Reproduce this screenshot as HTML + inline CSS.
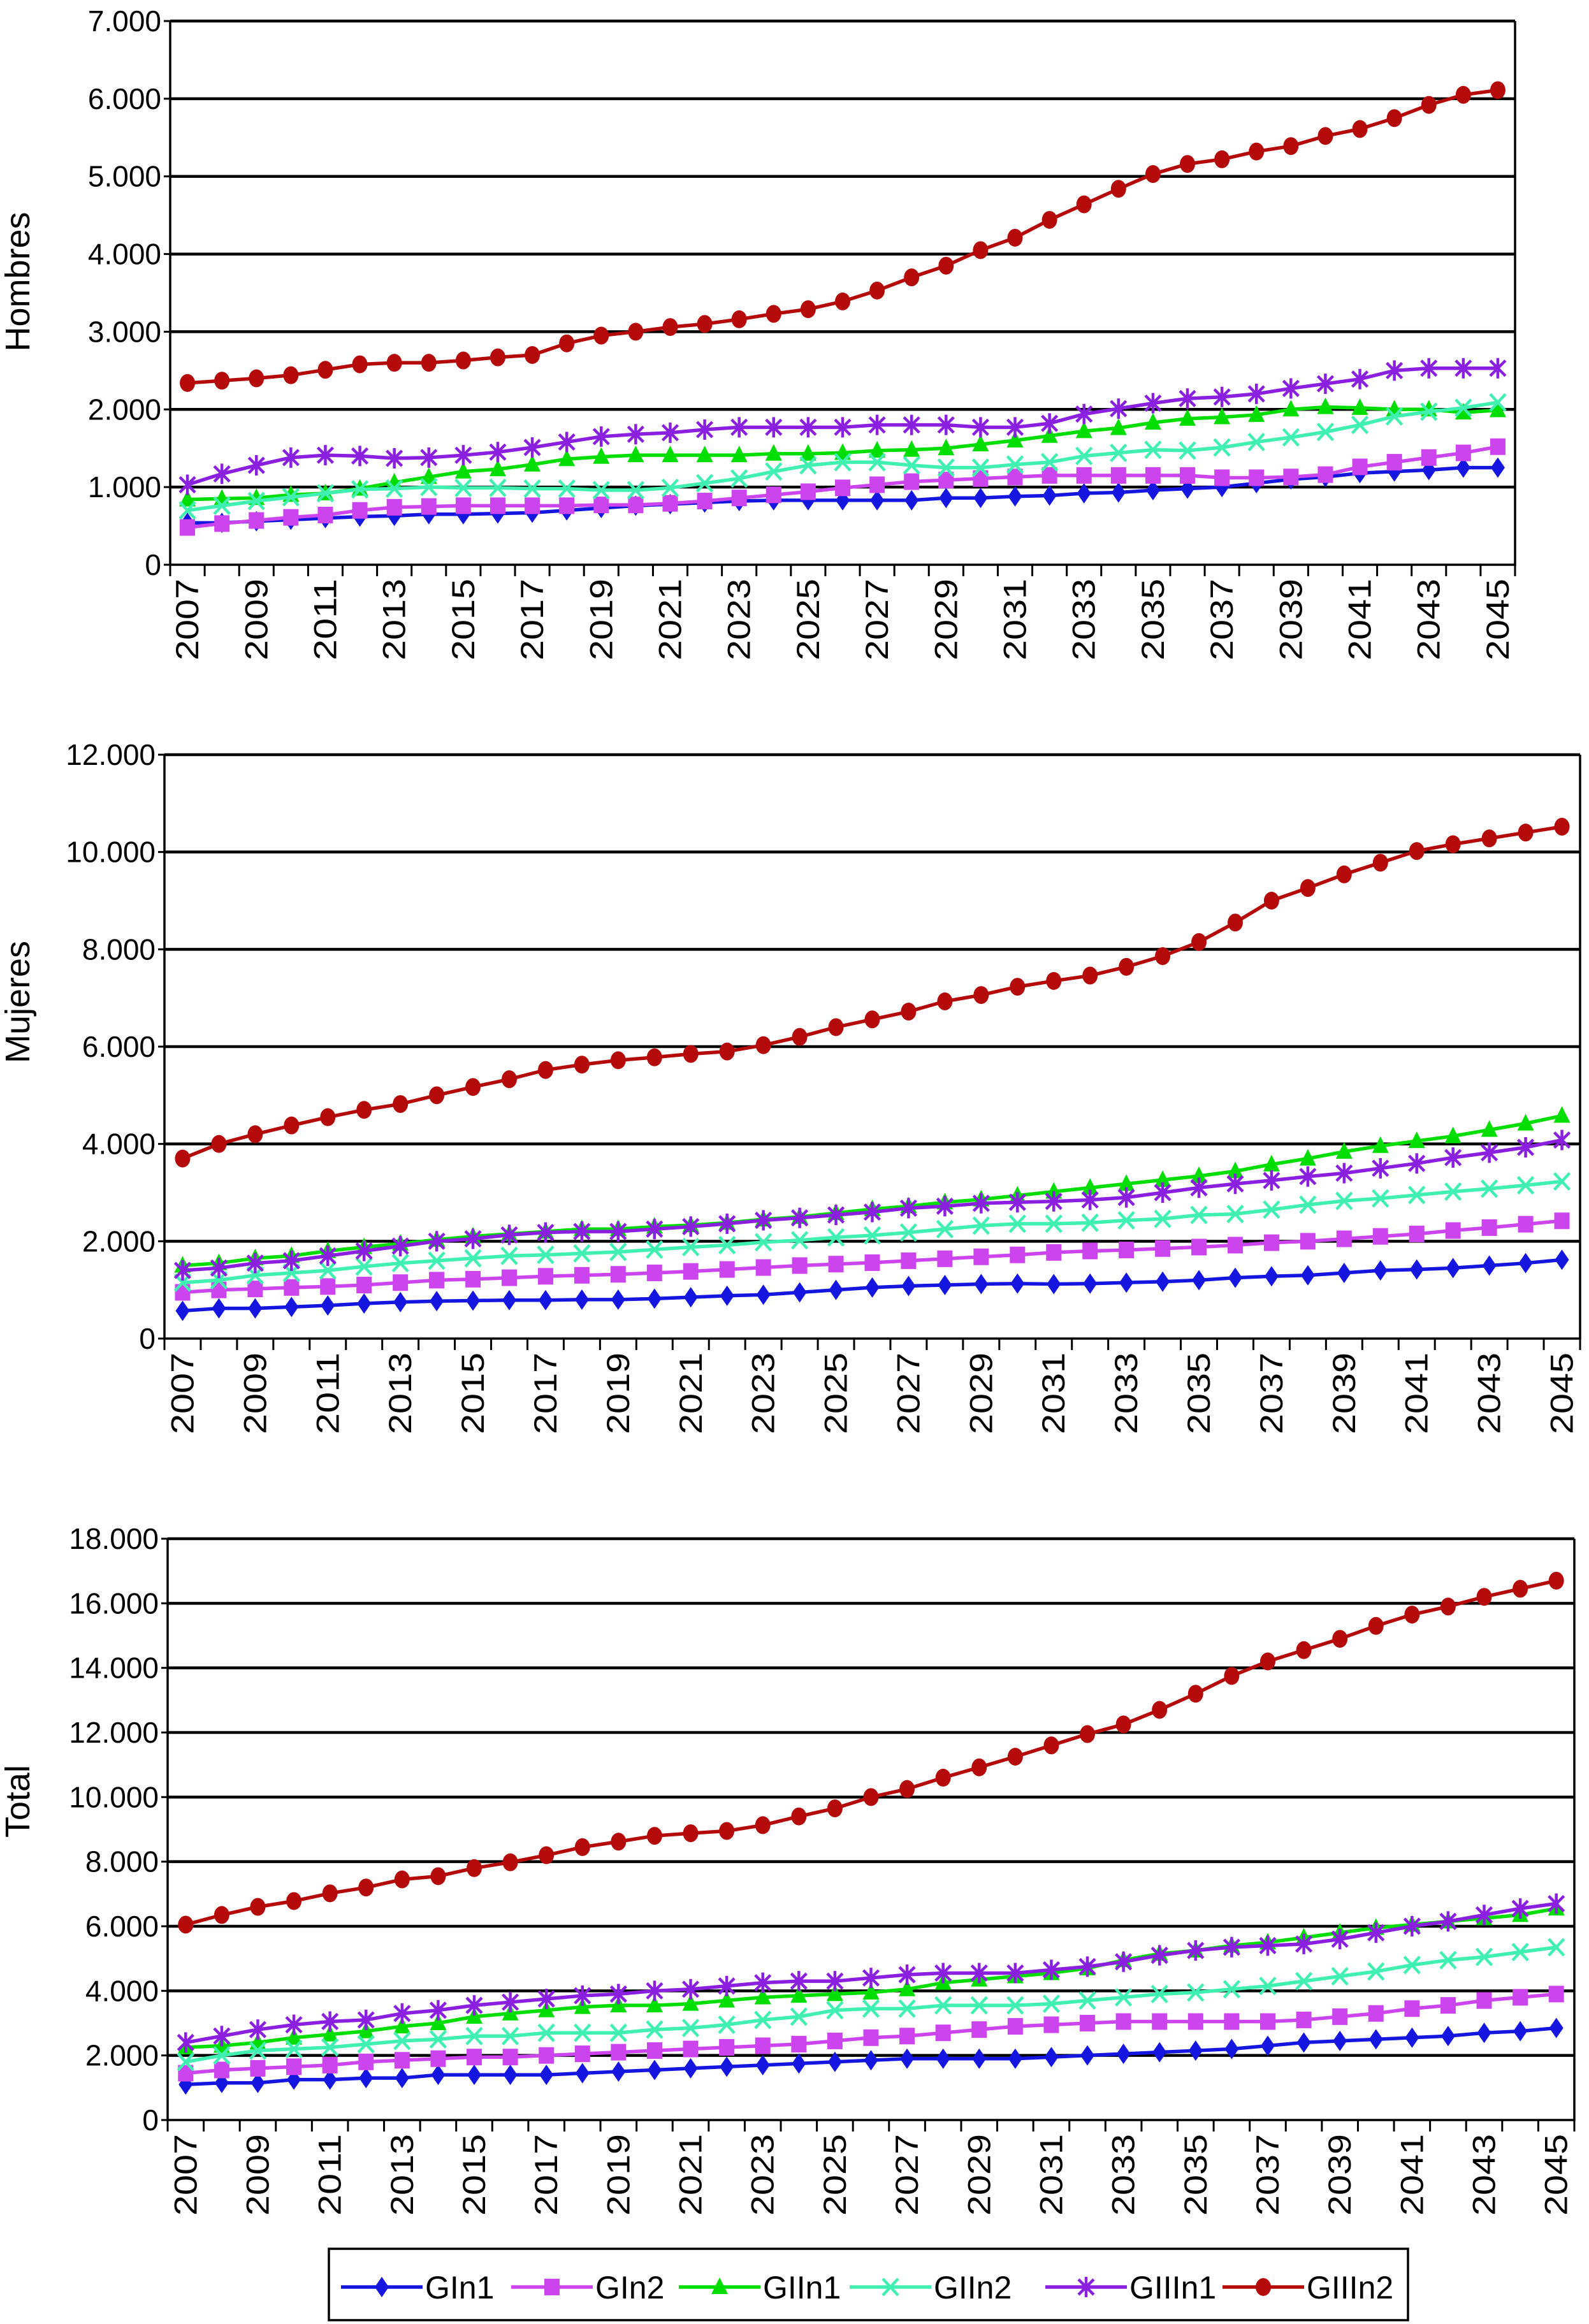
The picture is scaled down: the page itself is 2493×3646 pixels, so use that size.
<!DOCTYPE html>
<html><head><meta charset="utf-8"><style>
html,body{margin:0;padding:0;background:#fff;}
svg{display:block;font-family:"Liberation Sans",Arial,sans-serif;}
</style></head><body>
<svg id="root" width="2493" height="3646" viewBox="0 0 2493 3646"></svg>
<script>
const years = [];
for (let y = 2007; y <= 2045; y++) years.push(y);
const seriesNames = ["GIn1","GIn2","GIIn1","GIIn2","GIIIn1","GIIIn2"];

const hGIn1 = [540,540,560,580,600,620,630,650,650,660,670,700,730,760,780,800,820,830,830,830,830,830,860,860,880,890,920,930,960,980,1000,1050,1100,1130,1180,1200,1220,1250,1250];
const hGIn2 = [480,530,570,610,640,700,740,750,760,760,760,760,770,770,790,820,860,900,940,990,1030,1070,1090,1110,1130,1150,1150,1150,1150,1150,1120,1120,1130,1160,1260,1320,1380,1440,1520];
const hGIIn1 = [840,850,860,900,920,980,1060,1130,1200,1230,1290,1360,1390,1410,1410,1410,1410,1430,1430,1440,1470,1480,1500,1550,1600,1660,1720,1760,1830,1880,1900,1930,2000,2030,2020,2000,2000,1960,1990];
const hGIIn2 = [700,760,820,870,920,970,980,1000,990,990,980,980,960,960,990,1050,1110,1200,1280,1320,1320,1280,1250,1250,1290,1320,1400,1440,1480,1470,1510,1580,1640,1710,1800,1910,1970,2020,2090];
const hGIIIn1 = [1030,1170,1280,1380,1410,1400,1370,1380,1410,1450,1510,1580,1650,1680,1700,1740,1770,1770,1770,1770,1800,1800,1800,1770,1770,1820,1940,2010,2080,2140,2160,2200,2270,2330,2390,2500,2530,2530,2530];
const hGIIIn2 = [2340,2370,2400,2440,2510,2580,2600,2600,2630,2670,2700,2850,2950,3000,3060,3100,3160,3230,3290,3390,3530,3700,3850,4050,4210,4440,4640,4840,5030,5160,5220,5320,5390,5520,5610,5750,5920,6050,6110];

const mGIn1 = [570,620,620,650,680,720,750,770,780,790,790,800,800,820,850,880,900,950,1000,1050,1080,1100,1120,1130,1120,1130,1150,1170,1200,1250,1280,1300,1350,1400,1420,1450,1500,1550,1620];
const mGIn2 = [950,1000,1020,1050,1070,1100,1150,1200,1220,1250,1280,1300,1320,1350,1380,1420,1460,1500,1530,1560,1600,1640,1680,1720,1770,1800,1820,1850,1880,1920,1970,2000,2050,2100,2150,2220,2280,2350,2420];
const mGIIn1 = [1500,1550,1650,1700,1800,1880,1950,2030,2100,2150,2200,2250,2250,2300,2330,2380,2450,2500,2580,2660,2720,2800,2860,2940,3020,3100,3180,3260,3340,3440,3580,3700,3840,3960,4060,4160,4290,4420,4580];
const mGIIn2 = [1150,1200,1300,1350,1400,1480,1550,1600,1650,1700,1720,1750,1780,1830,1880,1920,1980,2020,2080,2120,2180,2250,2320,2360,2360,2380,2430,2460,2540,2560,2650,2750,2830,2880,2950,3020,3080,3150,3230];
const mGIIIn1 = [1400,1450,1550,1600,1700,1800,1900,2000,2050,2130,2180,2200,2200,2250,2300,2360,2430,2480,2540,2600,2680,2720,2780,2800,2820,2850,2900,3000,3100,3180,3250,3330,3400,3500,3600,3720,3820,3930,4080];
const mGIIIn2 = [3700,4000,4200,4380,4550,4700,4820,5000,5170,5330,5520,5630,5720,5780,5850,5900,6030,6200,6400,6560,6720,6930,7060,7230,7350,7460,7640,7860,8150,8550,9000,9260,9540,9780,10020,10160,10280,10400,10520];

const tGIn1 = [1100,1150,1150,1250,1250,1300,1300,1400,1400,1400,1400,1450,1500,1550,1600,1650,1700,1750,1800,1850,1900,1900,1900,1900,1950,2000,2050,2100,2150,2200,2300,2400,2450,2500,2550,2600,2700,2750,2850];
const tGIn2 = [1450,1550,1600,1650,1700,1800,1850,1900,1950,1950,2000,2050,2100,2150,2200,2250,2300,2350,2450,2550,2600,2700,2800,2900,2950,3000,3050,3050,3050,3050,3050,3100,3200,3300,3450,3550,3700,3800,3900];
const tGIIn1 = [2250,2300,2400,2550,2650,2750,2900,3000,3200,3300,3400,3500,3550,3550,3600,3700,3800,3850,3900,3950,4050,4250,4350,4450,4550,4700,4950,5150,5250,5400,5500,5650,5800,5950,6050,6150,6250,6350,6550];
const tGIIn2 = [1800,2000,2150,2200,2250,2350,2450,2500,2600,2600,2700,2700,2700,2800,2850,2950,3100,3200,3400,3450,3450,3550,3550,3550,3600,3700,3800,3900,3950,4050,4150,4300,4450,4600,4800,4950,5050,5200,5350];
const tGIIIn1 = [2400,2600,2800,2950,3050,3100,3300,3400,3550,3650,3750,3850,3900,4000,4050,4150,4250,4300,4300,4400,4500,4550,4550,4550,4650,4750,4900,5100,5250,5350,5400,5450,5600,5800,6000,6150,6350,6550,6700];
const tGIIIn2 = [6050,6350,6600,6780,7020,7200,7450,7550,7800,7980,8200,8450,8620,8800,8880,8950,9130,9400,9650,10000,10250,10600,10920,11250,11600,11950,12250,12700,13200,13750,14200,14550,14900,15300,15650,15900,16200,16450,16700];

const hTicks = [0,1000,2000,3000,4000,5000,6000,7000];
const mTicks = [0,2000,4000,6000,8000,10000,12000];
const tTicks = [0,2000,4000,6000,8000,10000,12000,14000,16000,18000];

const NS = "http://www.w3.org/2000/svg";
const root = document.getElementById("root");
const colors = ["#1515e0","#cc44ee","#00dd00","#40f0b0","#8a1fe0","#b50a0a"];
function el(tag, attrs, parent){const e=document.createElementNS(NS,tag);for(const k in attrs)e.setAttribute(k,attrs[k]);(parent||root).appendChild(e);return e;}
function fmt(v){return v===0?"0":String(v).replace(/\B(?=(\d{3})+(?!\d))/g,".");}

function marker(g, i, x, y){
  const c=colors[i]; let m;
  if(i===0){m=el("polygon",{points:`${x},${y-16} ${x+11},${y} ${x},${y+16} ${x-11},${y}`,fill:c},g);}
  else if(i===1){m=el("rect",{x:x-12,y:y-13,width:24,height:26,fill:c},g);}
  else if(i===2){m=el("polygon",{points:`${x},${y-15} ${x+13},${y+11} ${x-13},${y+11}`,fill:c},g);}
  else if(i===3){m=el("path",{d:`M${x-12},${y-13}L${x+12},${y+13}M${x+12},${y-13}L${x-12},${y+13}`,stroke:c,"stroke-width":4.5},g);}
  else if(i===4){m=el("path",{d:`M${x-12},${y-12}L${x+12},${y+12}M${x+12},${y-12}L${x-12},${y+12}M${x},${y-16}L${x},${y+16}`,stroke:c,"stroke-width":4.5},g);}
  else {m=el("ellipse",{cx:x,cy:y,rx:12,ry:14,fill:c},g);}
  
  
}

function drawChart(name, L, R, T, B, ticks, data, title, titleY){
  const g=el("g",{});
  
  
  const max=ticks[ticks.length-1];
  const yS=v=>B-(v/max)*(B-T);
  const bw=(R-L)/years.length;
  const xS=i=>L+bw*(i+0.5);
  ticks.forEach(t=>{
    if(t>0){const gl=el("line",{x1:L,x2:R,y1:yS(t),y2:yS(t),stroke:"#000","stroke-width":4.5},g);
      }
    const tl=el("text",{x:L-14,y:yS(t)+16,"text-anchor":"end","font-size":46,fill:"#000"},g);
    tl.textContent=fmt(t);
    
    el("line",{x1:L-10,x2:L,y1:yS(t),y2:yS(t),stroke:"#000","stroke-width":3},g);
  });
  const ax=el("path",{d:`M${L},${T}L${L},${B}L${R},${B}L${R},${T}`,fill:"none",stroke:"#000","stroke-width":3.5},g);
  
  for(let i=0;i<=years.length;i++){el("line",{x1:L+bw*i,x2:L+bw*i,y1:B,y2:B+18,stroke:"#000","stroke-width":3},g);}
  years.forEach((y,i)=>{
    if(i%2) return;
    const x=xS(i)+17, yy=B+22;
    const t=el("text",{x:x,y:yy,"text-anchor":"end","font-size":50,"textLength":128,"lengthAdjust":"spacingAndGlyphs",transform:`rotate(-90 ${x} ${yy})`},g);
    t.textContent=y;
    
  });
  const tt=el("text",{x:46,y:titleY,"text-anchor":"middle","font-size":54,transform:`rotate(-90 46 ${titleY})`},g);
  tt.textContent=title;
  
  data.forEach((arr,si)=>{
    const sg=el("g",{},g);
    
    
    const pts=arr.map((v,i)=>xS(i)+","+yS(v)).join(" ");
    el("polyline",{points:pts,fill:"none",stroke:colors[si],"stroke-width":5.5,"stroke-linejoin":"round"},sg);
    arr.forEach((v,i)=>marker(sg,si,xS(i),yS(v)));
  });
}
drawChart("hombres",267,2377,33,886,hTicks,[hGIn1,hGIn2,hGIIn1,hGIIn2,hGIIIn1,hGIIIn2],"Hombres",442);
drawChart("mujeres",258,2479,1184,2100,mTicks,[mGIn1,mGIn2,mGIIn1,mGIIn2,mGIIIn1,mGIIIn2],"Mujeres",1572);
drawChart("total",263,2470,2414,3326,tTicks,[tGIn1,tGIn2,tGIIn1,tGIIn2,tGIIIn1,tGIIIn2],"Total",2826);

// legend
const lg=el("g",{});


el("rect",{x:516,y:3528,width:1693,height:112,fill:"#fff",stroke:"#000","stroke-width":3.5},lg);
const lx=[535,802,1065,1333,1640,1918];
seriesNames.forEach((n,i)=>{
  const eg=el("g",{},lg);
  
  
  const cy=3588;
  el("line",{x1:lx[i],x2:lx[i]+128,y1:cy,y2:cy,stroke:colors[i],"stroke-width":5.5},eg);
  marker(eg,i,lx[i]+64,cy);
  const t=el("text",{x:lx[i]+132,y:cy+18,"font-size":50},eg);
  t.textContent=n;
});
</script>
</body></html>
